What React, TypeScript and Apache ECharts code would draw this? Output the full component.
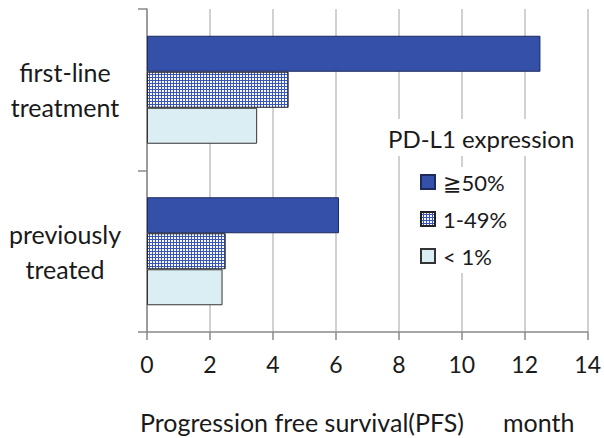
import React, { useEffect, useRef } from "react";
import * as echarts from "echarts";

// Treatment setting on the category axis (top to bottom)
const categories = ["first-line\ntreatment", "previously\ntreated"];

// PD-L1 expression groups and their median PFS (months)
const seriesNames = ["≧50%", "1-49%", "< 1%"];
const pfsHigh = [12.5, 6.1];
const pfsMid = [4.5, 2.5];
const pfsLow = [3.5, 2.4];

const xTicks = { min: 0, max: 14, interval: 2 };

const FONT = "Lato, 'Open Sans', 'DejaVu Sans', sans-serif";

// Fine blue/white mesh used for the middle expression group
function meshPattern(): HTMLCanvasElement {
  const c = document.createElement("canvas");
  c.width = 3;
  c.height = 3;
  const ctx = c.getContext("2d")!;
  ctx.fillStyle = "#3a55b2";
  ctx.fillRect(0, 0, 3, 3);
  ctx.fillStyle = "#f6f8fd";
  ctx.fillRect(0, 0, 2, 2);
  return c;
}

export default function App() {
  const ref = useRef<HTMLDivElement>(null);

  useEffect(() => {
    if (!ref.current) return;
    const chart = echarts.init(ref.current, undefined, { renderer: "svg" });
    const mesh = meshPattern();

    const bar = (name: string, data: number[], itemStyle: any) => ({
      name,
      type: "bar",
      data,
      barWidth: 36,
      barGap: "0%",
      itemStyle,
      emphasis: { disabled: true },
    });

    chart.setOption({
      animation: false,
      textStyle: { fontFamily: FONT },
      grid: { left: 147, right: 14, top: 9, bottom: 106, containLabel: false },
      title: {
        text: "PD-L1 expression",
        left: 382,
        top: 119,
        padding: [7, 6, 6, 6],
        backgroundColor: "#ffffff",
        textStyle: { fontSize: 24, fontWeight: "normal", color: "#1a1a1a", fontFamily: FONT },
      },
      legend: {
        orient: "vertical",
        left: 412,
        top: 167,
        padding: [4, 10, 6, 8],
        backgroundColor: "#ffffff",
        itemWidth: 14,
        itemHeight: 14,
        itemGap: 15,
        icon: "rect",
        selectedMode: false,
        data: seriesNames,
        textStyle: { fontSize: 22, color: "#1a1a1a", fontFamily: FONT, padding: [0, 0, 0, 3] },
      },
      xAxis: {
        type: "value",
        min: xTicks.min,
        max: xTicks.max,
        interval: xTicks.interval,
        axisLine: { show: true, lineStyle: { color: "#8a8a8a", width: 1.5 } },
        axisTick: { show: true, length: 8, lineStyle: { color: "#8a8a8a", width: 1.5 } },
        splitLine: { show: true, lineStyle: { color: "#c2c2c2", width: 1.5 } },
        axisLabel: { fontSize: 23, margin: 20, color: "#1a1a1a", fontFamily: FONT },
      },
      yAxis: {
        type: "category",
        inverse: true,
        data: categories,
        axisLine: { show: true, lineStyle: { color: "#8a8a8a", width: 1.5 } },
        axisTick: { show: true, length: 9, lineStyle: { color: "#8a8a8a", width: 1.5 } },
        axisLabel: {
          fontSize: 25,
          lineHeight: 35,
          align: "center",
          margin: 82,
          color: "#1a1a1a",
          fontFamily: FONT,
        },
      },
      graphic: [
        {
          type: "text",
          left: 140,
          top: 409,
          style: { text: "Progression free survival(PFS)", fontSize: 25, fill: "#1a1a1a", fontFamily: FONT },
        },
        {
          type: "text",
          left: 503,
          top: 409,
          style: { text: "month", fontSize: 25, fill: "#1a1a1a", fontFamily: FONT },
        },
      ],
      series: [
        bar(seriesNames[0], pfsHigh, { color: "#3450a8", borderColor: "#1c2a5c", borderWidth: 1 }),
        bar(seriesNames[1], pfsMid, {
          color: { image: mesh, repeat: "repeat" },
          borderColor: "#222222",
          borderWidth: 1,
        }),
        bar(seriesNames[2], pfsLow, { color: "#daeef3", borderColor: "#333333", borderWidth: 1 }),
      ],
    });

    return () => chart.dispose();
  }, []);

  return (
    <div
      ref={ref}
      style={{ position: "fixed", left: 0, top: 0, width: 604, height: 438, background: "#ffffff" }}
    />
  );
}
